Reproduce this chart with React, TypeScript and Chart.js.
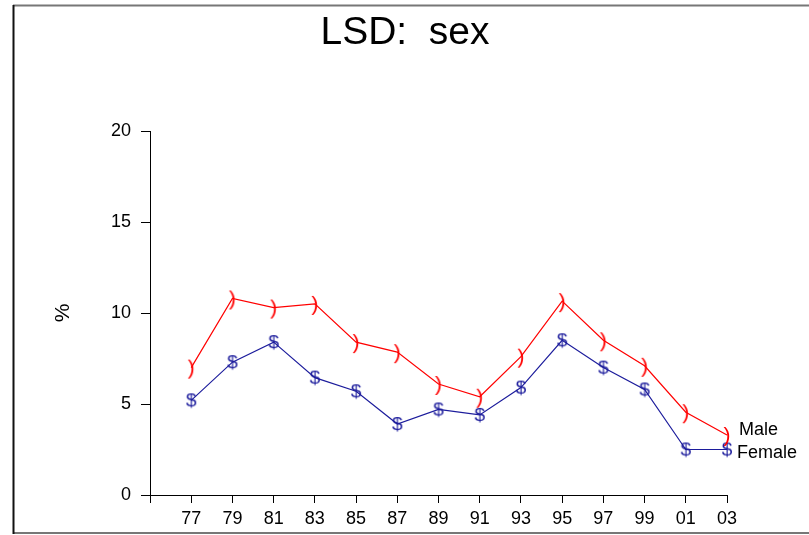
import React, { useEffect, useRef } from "react";
import { Chart, registerables } from "chart.js";

Chart.register(...registerables);

const years = [77, 79, 81, 83, 85, 87, 89, 91, 93, 95, 97, 99, 101, 103];
const tickLabels = ["77", "79", "81", "83", "85", "87", "89", "91", "93", "95", "97", "99", "01", "03"];
const male = [7.0, 10.8, 10.3, 10.5, 8.4, 7.85, 6.1, 5.4, 7.6, 10.65, 8.5, 7.1, 4.55, 3.3];
const female = [5.2, 7.3, 8.4, 6.45, 5.7, 3.9, 4.7, 4.4, 5.9, 8.5, 7.0, 5.8, 2.5, 2.5];
const yTicks = [0, 5, 10, 15, 20];

const FONT = "'Liberation Sans', Arial, sans-serif";
const RED = "#ff0000";
const BLUE = "#1c1c9c";

function glyph(ch: string, color: string, size: number, w: number, h: number) {
  const c = document.createElement("canvas");
  c.width = w;
  c.height = h;
  const ctx = c.getContext("2d")!;
  ctx.fillStyle = color;
  ctx.font = `${size}px ${FONT}`;
  ctx.textAlign = "center";
  ctx.textBaseline = "middle";
  ctx.fillText(ch, w / 2, h / 2 + 1);
  return c;
}

const decor = {
  id: "decor",
  afterDraw(chart: any) {
    const ctx = chart.ctx;
    ctx.save();
    // frame
    ctx.strokeStyle = "#777";
    ctx.lineWidth = 2;
    ctx.beginPath();
    ctx.moveTo(13, 5.5);
    ctx.lineTo(809, 5.5);
    ctx.moveTo(13, 533);
    ctx.lineTo(809, 533);
    ctx.stroke();
    ctx.strokeStyle = "#111";
    ctx.beginPath();
    ctx.moveTo(13.5, 5);
    ctx.lineTo(13.5, 534);
    ctx.stroke();
    // title
    ctx.fillStyle = "#000";
    ctx.font = `39px ${FONT}`;
    ctx.textAlign = "center";
    ctx.textBaseline = "alphabetic";
    ctx.fillText("LSD:  sex", 405, 44);
    // y label
    ctx.save();
    ctx.translate(63, 313);
    ctx.rotate(-Math.PI / 2);
    ctx.font = `21px ${FONT}`;
    ctx.textAlign = "center";
    ctx.textBaseline = "middle";
    ctx.fillText("%", 0, 0);
    ctx.restore();
    // series labels
    const m = chart.getDatasetMeta(0).data;
    const f = chart.getDatasetMeta(1).data;
    const lm = m[m.length - 1];
    const lf = f[f.length - 1];
    ctx.font = `18px ${FONT}`;
    ctx.textAlign = "left";
    ctx.textBaseline = "middle";
    ctx.fillText("Male", lm.x + 12, lm.y - 5);
    ctx.fillText("Female", lf.x + 10, lf.y + 4);
    ctx.restore();
  },
};

export default function App() {
  const ref = useRef<HTMLCanvasElement>(null);
  useEffect(() => {
    const dollar = glyph("$", BLUE, 19, 16, 22);
    const paren = glyph(")", RED, 21, 10, 26);
    const chart = new Chart(ref.current!, {
      type: "line",
      data: {
        datasets: [
          {
            label: "Male",
            data: years.map((x, i) => ({ x, y: male[i] })),
            borderColor: RED,
            borderWidth: 1.2,
            pointStyle: paren as any,
            pointRadius: 6,
            tension: 0,
            clip: false as any,
          },
          {
            label: "Female",
            data: years.map((x, i) => ({ x, y: female[i] })),
            borderColor: BLUE,
            borderWidth: 1.2,
            pointStyle: dollar as any,
            pointRadius: 6,
            tension: 0,
            clip: false as any,
          },
        ],
      },
      options: {
        responsive: false,
        animation: false,
        layout: { padding: { left: 0, top: 131, right: 82, bottom: 0 } },
        plugins: { legend: { display: false }, title: { display: false }, tooltip: { enabled: false } },
        scales: {
          x: {
            type: "linear",
            min: 75,
            max: 103,
            afterFit: (s: any) => {
              s.height = 40;
            },
            afterBuildTicks: (s: any) => {
              s.ticks = [75, ...years].map((v) => ({ value: v }));
            },
            ticks: {
              autoSkip: false,
              maxRotation: 0,
              padding: 5,
              color: "#000",
              font: { family: FONT, size: 18 },
              callback: (v: any) => {
                const i = years.indexOf(Number(v));
                return i >= 0 ? tickLabels[i] : "";
              },
            },
            grid: { drawOnChartArea: false, drawTicks: true, tickLength: 8, color: "#000", lineWidth: 1 },
            border: { display: true, color: "#000", width: 1 },
          },
          y: {
            min: 0,
            max: 20,
            afterFit: (s: any) => {
              s.width = 150;
            },
            afterBuildTicks: (s: any) => {
              s.ticks = yTicks.map((v) => ({ value: v }));
            },
            ticks: {
              padding: 10,
              color: "#000",
              font: { family: FONT, size: 18 },
            },
            grid: { drawOnChartArea: false, drawTicks: true, tickLength: 9, color: "#000", lineWidth: 1 },
            border: { display: true, color: "#000", width: 1 },
          },
        },
      },
      plugins: [decor],
    });
    return () => chart.destroy();
  }, []);
  return (
    <div style={{ position: "absolute", left: 0, top: 0, width: 809, height: 535, background: "#fff" }}>
      <canvas ref={ref} width={809} height={535} />
    </div>
  );
}
